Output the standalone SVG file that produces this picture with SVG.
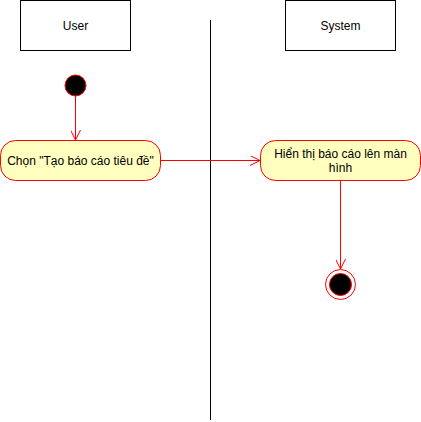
<svg xmlns="http://www.w3.org/2000/svg" width="421" height="422" viewBox="0 0 421 422">
<style>
.lane{fill:#fff;stroke:#000;stroke-width:1}
.act{fill:#ffffc0;stroke:#ff0000;stroke-width:1}
.t{font-family:"Liberation Sans",Arial,sans-serif;font-size:12px;fill:#000;text-anchor:middle}
.edge{fill:none;stroke:#ff0000;stroke-width:1}
</style>
<defs>
<marker id="arr" viewBox="0 0 10 10" refX="10" refY="5" markerWidth="10" markerHeight="10" markerUnits="userSpaceOnUse" orient="auto">
<path d="M0,0 L10,5 L0,10" fill="none" stroke="#ff0000" stroke-width="1"/>
</marker>
</defs>
<rect width="421" height="422" fill="#fff"/>
<line x1="210.5" y1="20" x2="210.5" y2="420" stroke="#000" stroke-width="1"/>
<g id="user">
<rect class="lane" x="20.5" y="0.5" width="110" height="50"/>
<text class="t" x="75.5" y="30">User</text>
</g>
<g id="system">
<rect class="lane" x="285.5" y="0.5" width="110" height="50"/>
<text class="t" x="340.5" y="30">System</text>
</g>
<g id="connectors">
<path class="edge" d="M75.5,96 V140" marker-end="url(#arr)"/>
<path class="edge" d="M160.5,160.5 H260" marker-end="url(#arr)"/>
<path class="edge" d="M340.5,180.5 V269" marker-end="url(#arr)"/>
</g>
<g id="start">
<circle cx="75.5" cy="85.5" r="10.5" fill="#000" stroke="#ff0000" stroke-width="1"/>
</g>
<g id="act1">
<rect class="act" x="0.5" y="140.5" width="160" height="40" rx="15" ry="15"/>
<text class="t" x="80.5" y="164.5">Chọn "Tạo báo cáo tiêu đề"</text>
</g>
<g id="act2">
<rect class="act" x="260.5" y="140.5" width="160" height="40" rx="15" ry="15"/>
<text class="t" x="340.5" y="158">Hiển thị báo cáo lên màn</text>
<text class="t" x="340.5" y="172">hình</text>
</g>
<g id="end">
<circle cx="340.5" cy="284.5" r="15" fill="#fff" stroke="#ff0000" stroke-width="1"/>
<circle cx="340.5" cy="284.5" r="11" fill="#000" stroke="#ff0000" stroke-width="1"/>
</g>
</svg>
